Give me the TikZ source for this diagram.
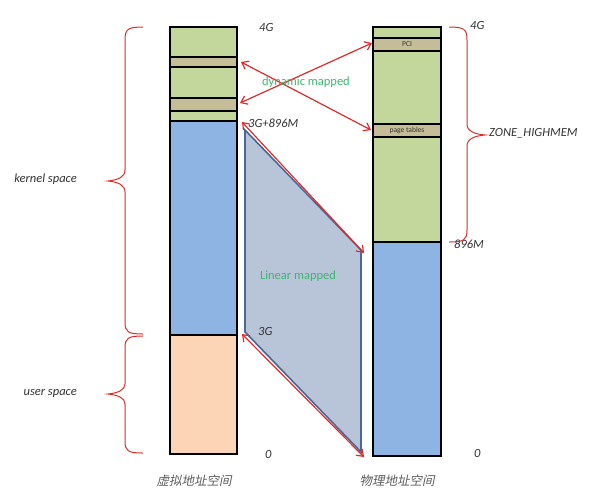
\documentclass[tikz,border=0pt]{standalone}
\usepackage{fontspec}
\setmainfont{Carlito}
\newfontfamily\cjk[FakeSlant=0.2]{Noto Sans CJK SC}
\usetikzlibrary{arrows.meta}
\definecolor{bgreen}{HTML}{C3D69B}
\definecolor{btan}{HTML}{C4BD97}
\definecolor{bblue}{HTML}{8EB4E3}
\definecolor{bpeach}{HTML}{FBD5B5}
\definecolor{pfill}{HTML}{B8C5D9}
\definecolor{pedge}{HTML}{4A6894}
\definecolor{ared}{HTML}{E02A2A}
\definecolor{tgreen}{HTML}{3DB56E}
\definecolor{lgray}{HTML}{333333}
\tikzset{
  band/.style={draw=black,line width=1.6pt},
  redarrow/.style={draw=ared,line width=1.2pt,{Straight Barb[length=6pt,width=9pt]}-{Straight Barb[length=6pt,width=9pt]}},
  bracestyle/.style={draw=ared,line width=1pt},
  lab/.style={font=\itshape\fontsize{12.5}{14}\selectfont,text=lgray,inner sep=0pt},
  maplab/.style={font=\fontsize{12.5}{14}\selectfont,text=tgreen,inner sep=0pt},
  smalllab/.style={font=\fontsize{7.5}{8}\selectfont,text=lgray,inner sep=0pt},
  cjklab/.style={font=\cjk\fontsize{12.5}{14}\selectfont,text=lgray!80,inner sep=0pt}
}
\begin{document}
\begin{tikzpicture}[x=1pt,y=-1pt]
\useasboundingbox (0,0) rectangle (596,493);
% linear mapped parallelogram
\filldraw[fill=pfill,draw=pedge,line width=1.6pt] (245,130) -- (361,250) -- (361,452) -- (245,332) -- cycle;
% left column (virtual)
\filldraw[band,fill=bgreen] (170,27) rectangle (237,57);
\filldraw[band,fill=btan] (170,57) rectangle (237,67);
\filldraw[band,fill=bgreen] (170,67) rectangle (237,98);
\filldraw[band,fill=btan] (170,98) rectangle (237,111);
\filldraw[band,fill=bgreen] (170,111) rectangle (237,121);
\filldraw[band,fill=bblue] (170,121) rectangle (237,335);
\filldraw[band,fill=bpeach] (170,335) rectangle (237,454);
% right column (physical)
\filldraw[band,fill=bgreen] (373,27) rectangle (441,38);
\filldraw[band,fill=btan] (373,38) rectangle (441,51);
\filldraw[band,fill=bgreen] (373,51) rectangle (441,124);
\filldraw[band,fill=btan] (373,124) rectangle (441,137);
\filldraw[band,fill=bgreen] (373,137) rectangle (441,242);
\filldraw[band,fill=bblue] (373,242) rectangle (441,456);
\node[smalllab] (pci) at (407,44.5) {PCI};
\node[smalllab] (pt) at (407,130.5) {page tables};
% arrow end points
\coordinate (vA) at (240,103);
\coordinate (vB) at (241,62);
\coordinate (pA) at (372,43);
\coordinate (pB) at (371,130);
\coordinate (vTop) at (242,122);
\coordinate (pTop) at (364,253);
\coordinate (vBot) at (242,334);
\coordinate (pBot) at (364,457);
\draw[redarrow] (vA) -- (pA);
\draw[redarrow] (vB) -- (pB);
\draw[redarrow] (vTop) -- (pTop);
\draw[redarrow] (vBot) -- (pBot);
\node[maplab] (dyn) at (306,82) {dynamic mapped};
\node[maplab] (lin) at (298,276) {Linear mapped};
% labels
\node[lab,anchor=west] (l4g) at (259,27) {4G};
\node[lab,anchor=west] (l3g896) at (248,123) {3G+896M};
\node[lab,anchor=west] (l3g) at (258,331) {3G};
\node[lab,anchor=west] (l0) at (265,454) {0};
\node[lab,anchor=west] (r4g) at (470,25) {4G};
\node[lab,anchor=west] (r896) at (454,244) {896M};
\node[lab,anchor=west] (zh) at (489,133) {ZONE\_HIGHMEM};
\node[lab,anchor=west] (r0) at (474,453) {0};
\node[lab,anchor=east] (ks) at (77,179) {kernel space};
\node[lab,anchor=east] (us) at (77,393) {user space};
\node[cjklab] (vas) at (194,481) {虚拟地址空间};
\node[cjklab] (pas) at (397,481) {物理地址空间};
% braces
\draw[bracestyle] (143,27) .. controls (128,27) and (125,29) .. (125,40)
  -- (125,170) .. controls (125,177) and (118,180) .. (108,181)
  .. controls (118,182) and (125,185) .. (125,192)
  -- (125,322) .. controls (125,332) and (128,334) .. (143,334);
\draw[bracestyle] (143,336) .. controls (128,336) and (125,338) .. (125,348)
  -- (125,384) .. controls (125,390) and (118,393) .. (108,394)
  .. controls (118,395) and (125,398) .. (125,404)
  -- (125,441) .. controls (125,451) and (128,453) .. (143,453);
\draw[bracestyle] (449,27) .. controls (464,27) and (467,29) .. (467,40)
  -- (467,124) .. controls (467,131) and (474,134) .. (485,135)
  .. controls (474,136) and (467,139) .. (467,146)
  -- (467,230) .. controls (467,240) and (464,242) .. (449,242);
\end{tikzpicture}
\end{document}
